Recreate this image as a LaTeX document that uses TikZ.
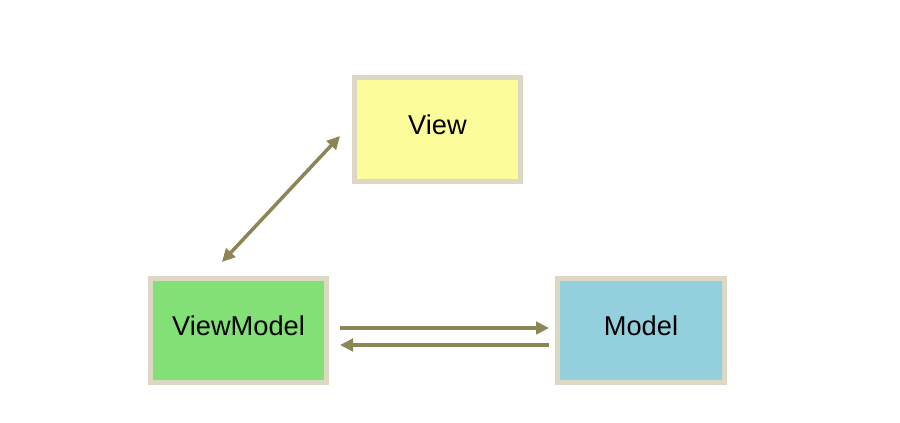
\documentclass[tikz,border=0pt]{standalone}
\usepackage{fontspec}
\setmainfont{Liberation Sans}
\usepackage{xcolor}
\usepackage{tikz}
\usetikzlibrary{positioning,arrows.meta}
\definecolor{boxrim}{HTML}{DDD8C3}
\definecolor{viewfill}{HTML}{FDFC9A}
\definecolor{vmfill}{HTML}{82E077}
\definecolor{modelfill}{HTML}{93CFDD}
\definecolor{linkcol}{HTML}{8C8556}

\begin{document}
\begin{tikzpicture}[
  every node/.style={font=\fontsize{15.5}{18}\selectfont},
  part/.style={draw=boxrim, line width=0.1cm, minimum height=2.08cm, inner sep=0pt, text height=12pt, text depth=6.5pt},
  link/.style={draw=linkcol, line width=0.07cm, -{Triangle[length=0.26cm,width=0.25cm]}},
  duplex/.style={link, {Triangle[length=0.26cm,width=0.25cm]}-{Triangle[length=0.26cm,width=0.25cm]}},
]
\useasboundingbox (0,0) rectangle (18,8.46);

% ---------------- boxes ----------------
\node[part, fill=viewfill, minimum width=3.32cm] (view) at (8.75,5.87) {View};
\node[part, fill=vmfill, minimum width=3.52cm] (vm) at (4.77,1.85) {ViewModel};
\node[part, fill=modelfill, minimum width=3.34cm] (model) at (12.82,1.85) {Model};

% ---------------- links ----------------
\draw[duplex] ([xshift=-0.33cm,yshift=0.28cm]vm.north) -- ([xshift=-0.24cm,yshift=-0.13cm]view.west);
\draw[link] ([xshift=0.22cm,yshift=0.05cm]vm.east) -- ([xshift=-0.12cm,yshift=0.05cm]model.west);
\draw[link] ([xshift=-0.12cm,yshift=-0.29cm]model.west) -- ([xshift=0.22cm,yshift=-0.29cm]vm.east);
\end{tikzpicture}
\end{document}
